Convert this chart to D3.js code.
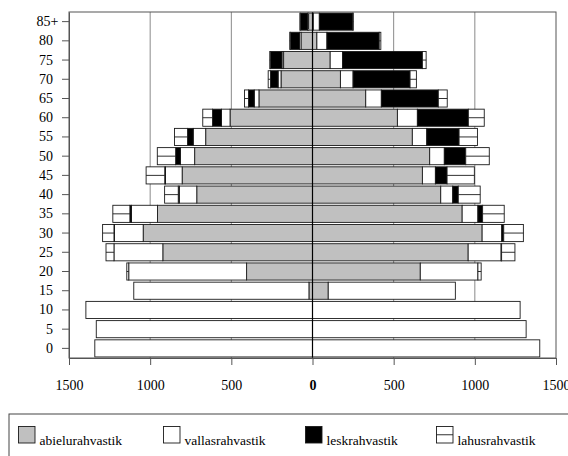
<!DOCTYPE html>
<html><head><meta charset="utf-8">
<script src="https://cdn.jsdelivr.net/npm/d3@7"></script>
<style>
body{margin:0;background:#fff;}
svg{display:block;font-family:"Liberation Serif","Times New Roman",serif;}
</style></head>
<body>
<svg id="chart" width="568" height="456"></svg>
<script>
const ages = ["0","5","10","15","20","25","30","35","40","45","50","55","60","65","70","75","80","85+"];
const seriesNames = ["abielurahvastik","vallasrahvastik","leskrahvastik","lahusrahvastik"];
// left side
const abieluLeft = [0,0,0,22,406,922,1043,955,713,803,726,658,508,330,194,178,71,24];
const vallasLeft = [1341,1332,1396,1079,726,301,178,160,108,103,88,77,53,29,18,10,9,6];
const leskLeft   = [0,0,0,0,0,0,2,10,6,4,29,35,55,35,47,72,57,46];
const lahusLeft  = [0,0,0,0,12,49,70,105,84,115,113,80,60,25,14,3,3,1];
// right side
const abieluRight = [0,0,0,97,664,959,1045,922,790,677,722,615,523,328,172,109,27,5];
const vallasRight = [1400,1316,1279,783,355,203,121,97,74,80,90,89,123,96,78,76,62,37];
const leskRight   = [0,0,0,0,0,3,12,29,34,72,132,199,314,351,351,492,322,207];
const lahusRight  = [0,0,0,0,20,82,121,133,135,168,145,113,98,55,39,23,10,2];
const xTicks = [-1500,-1000,-500,0,500,1000,1500];

(function(){
const fills = {abielurahvastik:"#c0c0c0", vallasrahvastik:"#ffffff", leskrahvastik:"#000000", lahusrahvastik:"#ffffff"};

const svg = d3.select("#chart");
const pL = 69, pR = 556, pT = 12, pB = 358;
const x = d3.scaleLinear().domain([-1500,1500]).range([pL,pR]);
const y = d3.scaleBand().domain(ages.slice().reverse()).range([pT,pB]).paddingInner(0.11).paddingOuter(0.055);

// gridlines
svg.append("g").selectAll("line").data([-1000,-500,500,1000]).join("line")
  .attr("x1",d=>x(d)).attr("x2",d=>x(d)).attr("y1",pT).attr("y2",pB)
  .attr("stroke","#8a8a8a").attr("stroke-width",1);

function buildRows(a,b,c,d){
  return ages.map((age,i)=>({age, abielurahvastik:a[i], vallasrahvastik:b[i], leskrahvastik:c[i], lahusrahvastik:d[i]}));
}
const stack = d3.stack().keys(seriesNames);
const sides = [
  {sign:-1, rows:buildRows(abieluLeft,vallasLeft,leskLeft,lahusLeft)},
  {sign: 1, rows:buildRows(abieluRight,vallasRight,leskRight,lahusRight)}
];
const barsG = svg.append("g");
sides.forEach(side=>{
  const st = stack(side.rows);
  st.forEach(layer=>{
    const key = layer.key;
    layer.forEach(seg=>{
      const v0 = seg[0]*side.sign, v1 = seg[1]*side.sign;
      if (seg[1]-seg[0] <= 0) return;
      const xa = Math.min(x(v0),x(v1)), w = Math.abs(x(v1)-x(v0));
      const yy = y(seg.data.age), h = y.bandwidth();
      barsG.append("rect").attr("x",xa).attr("y",yy).attr("width",w).attr("height",h)
        .attr("fill",fills[key]).attr("stroke","#1a1a1a").attr("stroke-width",0.9);
      if (key==="lahusrahvastik"){
        barsG.append("line").attr("x1",xa).attr("x2",xa+w).attr("y1",yy+h/2).attr("y2",yy+h/2)
          .attr("stroke","#1a1a1a").attr("stroke-width",0.9);
      }
    });
  });
});

// center line
svg.append("line").attr("x1",x(0)).attr("x2",x(0)).attr("y1",pT).attr("y2",pB)
  .attr("stroke","#000").attr("stroke-width",1.2);

// frame
svg.append("rect").attr("x",pL).attr("y",pT).attr("width",pR-pL).attr("height",pB-pT)
  .attr("fill","none").attr("stroke","#555").attr("stroke-width",1);

// axes
const yAxis = svg.append("g").attr("transform",`translate(${pL},0)`)
  .call(d3.axisLeft(y).tickSize(7).tickSizeOuter(0).tickPadding(9));
yAxis.select(".domain").attr("stroke","#555");
yAxis.selectAll(".tick line").attr("stroke","#555");
yAxis.selectAll("text").attr("font-size","14px").attr("fill","#000")
  .attr("font-family","'Liberation Serif',serif")
  .attr("dx",d=>d==="85+"?5.5:0);

const xAxis = svg.append("g").attr("transform",`translate(0,${pB})`)
  .call(d3.axisBottom(x).tickValues(xTicks).tickSize(7).tickSizeOuter(0).tickPadding(15).tickFormat(d=>Math.abs(d)));
xAxis.select(".domain").attr("stroke","#555");
xAxis.selectAll(".tick line").attr("stroke","#555");
xAxis.selectAll("text").attr("font-size","14px").attr("fill","#000")
  .attr("font-family","'Liberation Serif',serif")
  .attr("font-weight",d=>d===0?"bold":"normal");

// legend
const lg = svg.append("g");
lg.append("rect").attr("x",9).attr("y",414).attr("width",600).attr("height",80)
  .attr("fill","none").attr("stroke","#444").attr("stroke-width",1);
const legendX = [18.5,163.5,305.5,436.5];
seriesNames.forEach((name,i)=>{
  const gx = legendX[i];
  lg.append("rect").attr("x",gx).attr("y",426.5).attr("width",16.5).attr("height",16.5)
    .attr("fill",fills[name]).attr("stroke","#1a1a1a").attr("stroke-width",0.9);
  if (name==="lahusrahvastik"){
    lg.append("line").attr("x1",gx).attr("x2",gx+16.5).attr("y1",434.75).attr("y2",434.75)
      .attr("stroke","#1a1a1a").attr("stroke-width",0.9);
  }
  lg.append("text").attr("x",gx+21).attr("y",444.5).attr("font-size","13.5px").attr("fill","#000")
    .text(name);
});
})();
</script>
</body></html>
